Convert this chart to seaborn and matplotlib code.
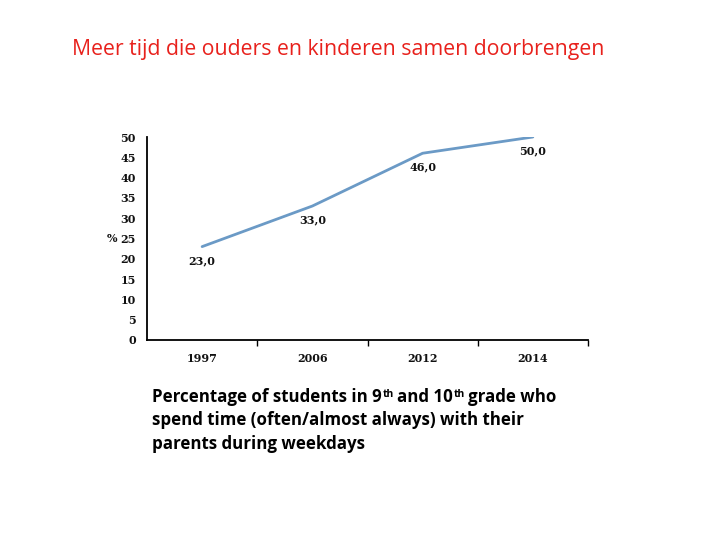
import matplotlib
matplotlib.use("Agg")
import matplotlib.pyplot as plt
import pandas as pd
import seaborn as sns


years = ["1997", "2006", "2012", "2014"]
percent = [23.0, 33.0, 46.0, 50.0]
y_ticks = [0, 5, 10, 15, 20, 25, 30, 35, 40, 45, 50]

LINE_COLOR = "#6b9ac6"
TITLE_COLOR = "#e8211c"
SERIF = ["DejaVu Serif"]
SANS = ["Open Sans", "DejaVu Sans"]


def add_caption(fig) -> None:
    # caption with superscript "th", built from chained text pieces
    size = 12.2
    sup = 7.5
    kw = dict(fontweight="bold", family=SANS, color="black")
    fig.canvas.draw()
    r = fig.canvas.get_renderer()
    w, h = fig.bbox.width, fig.bbox.height

    t = fig.text(152 / 720, 1 - 397 / 540, "Percentage of students in 9", fontsize=size,
                 va="center", **kw)
    bb = t.get_window_extent(r)
    s = fig.text((bb.x1 + 1) / w, (bb.y1 - 9) / h, "th", fontsize=sup, **kw)
    bb = s.get_window_extent(r)
    t2 = fig.text((bb.x1 + 3) / w, 1 - 397 / 540, "and 10", fontsize=size, va="center", **kw)
    bb = t2.get_window_extent(r)
    s2 = fig.text((bb.x1 + 1) / w, (bb.y1 - 9) / h, "th", fontsize=sup, **kw)
    bb = s2.get_window_extent(r)
    fig.text((bb.x1 + 3) / w, 1 - 397 / 540, "grade who", fontsize=size, va="center", **kw)
    fig.text(152 / 720, 1 - 420 / 540, "spend time (often/almost always) with their",
             fontsize=size, va="center", **kw)
    fig.text(152 / 720, 1 - 444 / 540, "parents during weekdays",
             fontsize=size, va="center", **kw)


def main() -> None:
    sns.set_theme(style="white")
    data = pd.DataFrame({"year": years, "percent": percent})

    fig = plt.figure(figsize=(7.2, 5.4), dpi=100)
    ax = fig.add_axes([147 / 720, 1 - 340 / 540, (588 - 147) / 720, (340 - 137) / 540])
    sns.lineplot(data=data, x="year", y="percent", ax=ax, color=LINE_COLOR, linewidth=2.0,
                 sort=False)

    for i, v in enumerate(percent):
        ax.annotate(f"{v:.1f}".replace(".", ","), (i, v), xytext=(0, -10),
                    textcoords="offset points", ha="center", va="center",
                    fontsize=8, fontweight="bold", family=SERIF, color="#111111")

    ax.set_xlim(-0.5, 3.5)
    ax.set_ylim(0, 50)
    ax.set_yticks(y_ticks)
    ax.set_yticklabels([str(t) for t in y_ticks], fontsize=8, fontweight="bold",
                       family=SERIF, color="#111111")
    ax.set_xticks(range(len(years)))
    ax.set_xticklabels(years, fontsize=8, fontweight="bold", family=SERIF, color="#111111")
    ax.set_xticks([0.5, 1.5, 2.5, 3.5], minor=True)
    ax.tick_params(axis="x", which="major", length=0, pad=9)
    ax.tick_params(axis="x", which="minor", length=4, width=1, color="black", direction="out",
                   bottom=True)
    ax.tick_params(axis="y", length=0, pad=8)
    ax.set_xlabel("")
    ax.set_ylabel("%", rotation=0, fontsize=8, fontweight="bold", family=SERIF,
                  color="#111111", va="center")
    ax.yaxis.set_label_coords(-0.08, 0.5)

    for side in ["top", "right"]:
        ax.spines[side].set_visible(False)
    for side in ["left", "bottom"]:
        ax.spines[side].set_color("black")
        ax.spines[side].set_linewidth(1.3)

    fig.text(72 / 720, 1 - 50 / 540, "Meer tijd die ouders en kinderen samen doorbrengen",
             fontsize=15.3, color=TITLE_COLOR, family=SANS, va="center")
    add_caption(fig)

    fig.savefig("out.png", dpi=100)
    plt.close(fig)


if __name__ == "__main__":
    main()
